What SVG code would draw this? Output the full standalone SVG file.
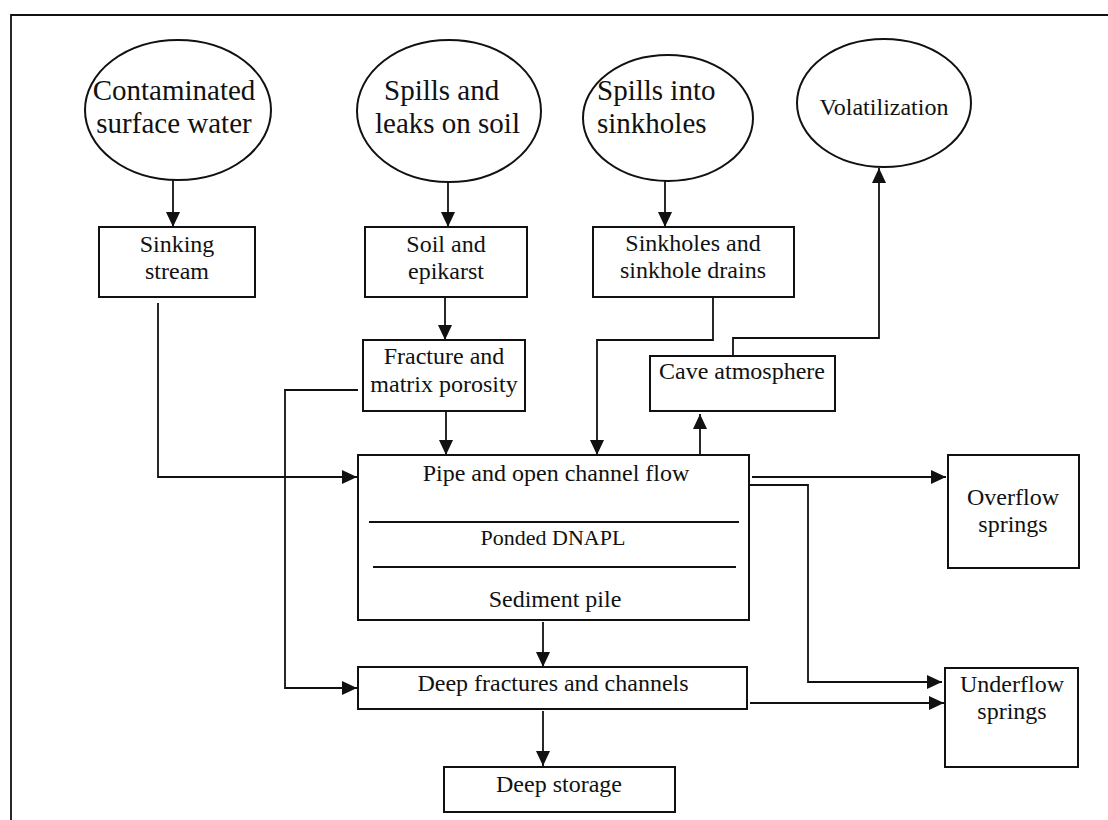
<svg xmlns="http://www.w3.org/2000/svg" width="1108" height="820" viewBox="0 0 1108 820">
<style>
.shape{fill:#fff;stroke:#111;stroke-width:2}
.ln{fill:none;stroke:#111;stroke-width:1.8}
.arr{fill:none;stroke:#111;stroke-width:1.8;marker-end:url(#ah)}
.t{font-family:"Liberation Serif","Times New Roman",serif;font-size:24px;fill:#111;text-anchor:middle}
.te{font-family:"Liberation Serif","Times New Roman",serif;font-size:29px;fill:#111}
</style>
<defs>
<marker id="ah" markerUnits="userSpaceOnUse" markerWidth="16" markerHeight="14" refX="15" refY="7" orient="auto">
<path d="M0,0 L15,7 L0,14 z" fill="#111"/>
</marker>
</defs>
<rect width="1108" height="820" fill="#fff"/>
<g id="frame">
<path class="ln" d="M11,820 L11,15 L1108,15"/>
</g>
<g id="connectors">
<path class="arr" d="M173,180 L173,227"/>
<path class="arr" d="M448,182 L448,227"/>
<path class="arr" d="M665,181 L665,227"/>
<path class="arr" d="M445,297 L445,340"/>
<path class="arr" d="M158,303 L158,477 L357,477"/>
<path class="arr" d="M446,411 L446,455"/>
<path class="arr" d="M713,297 L713,340 L597,340 L597,455"/>
<path class="arr" d="M358,390 L285,390 L285,688 L357,688"/>
<path class="arr" d="M733,356 L733,338 L879,338 L879,168"/>
<path class="arr" d="M700,541 L700,414"/>
<circle cx="700" cy="541" r="5" fill="#111"/>
<path class="arr" d="M752,477 L946,477"/>
<path class="arr" d="M749,485 L808,485 L808,682 L942,682"/>
<path class="arr" d="M543,622 L543,667"/>
<path class="arr" d="M750,703 L944,703"/>
<path class="arr" d="M543,711 L543,766"/>
</g>
<g id="contaminated_surface_water">
<ellipse class="shape" cx="178" cy="110" rx="93" ry="70"/>
<text class="te" x="174" y="100" text-anchor="middle">Contaminated</text>
<text class="te" x="174" y="133" text-anchor="middle">surface water</text>
</g>
<g id="spills_leaks_soil">
<ellipse class="shape" cx="449" cy="111" rx="92" ry="71"/>
<text class="te" x="384" y="100">Spills and</text>
<text class="te" x="375" y="133">leaks on soil</text>
</g>
<g id="spills_sinkholes">
<ellipse class="shape" cx="668" cy="118" rx="85" ry="63"/>
<text class="te" x="597" y="100">Spills into</text>
<text class="te" x="597" y="133">sinkholes</text>
</g>
<g id="volatilization">
<ellipse class="shape" cx="884" cy="103" rx="87" ry="64"/>
<text class="t" x="884" y="115">Volatilization</text>
</g>
<g id="sinking_stream">
<rect class="shape" x="99" y="227" width="156" height="70"/>
<text class="t" x="177" y="252">Sinking</text>
<text class="t" x="177" y="279">stream</text>
</g>
<g id="soil_epikarst">
<rect class="shape" x="365" y="227" width="162" height="70"/>
<text class="t" x="446" y="252">Soil and</text>
<text class="t" x="446" y="279">epikarst</text>
</g>
<g id="sinkholes_drains">
<rect class="shape" x="593" y="227" width="201" height="70"/>
<text class="t" x="693" y="251">Sinkholes and</text>
<text class="t" x="693" y="278">sinkhole drains</text>
</g>
<g id="fracture_matrix">
<rect class="shape" x="363" y="340" width="162" height="71"/>
<text class="t" x="444" y="364">Fracture and</text>
<text class="t" x="444" y="392">matrix porosity</text>
</g>
<g id="cave_atmosphere">
<rect class="shape" x="650" y="356" width="185" height="55"/>
<text class="t" x="742" y="379">Cave atmosphere</text>
</g>
<g id="pipe_channel">
<rect class="shape" x="358" y="455" width="391" height="165"/>
<text class="t" x="556" y="481">Pipe and open channel flow</text>
<line class="ln" x1="369" y1="522" x2="739" y2="522"/>
<text class="t" x="553" y="545" style="font-size:22px">Ponded DNAPL</text>
<line class="ln" x1="373" y1="567" x2="736" y2="567"/>
<text class="t" x="555" y="607">Sediment pile</text>
</g>
<g id="overflow_springs">
<rect class="shape" x="948" y="455" width="131" height="113"/>
<text class="t" x="1013" y="505">Overflow</text>
<text class="t" x="1013" y="532">springs</text>
</g>
<g id="deep_fractures">
<rect class="shape" x="358" y="667" width="389" height="42"/>
<text class="t" x="553" y="691">Deep fractures and channels</text>
</g>
<g id="underflow_springs">
<rect class="shape" x="945" y="668" width="133" height="99"/>
<text class="t" x="1012" y="692">Underflow</text>
<text class="t" x="1012" y="719">springs</text>
</g>
<g id="deep_storage">
<rect class="shape" x="444" y="767" width="231" height="45"/>
<text class="t" x="559" y="792">Deep storage</text>
</g>
</svg>
